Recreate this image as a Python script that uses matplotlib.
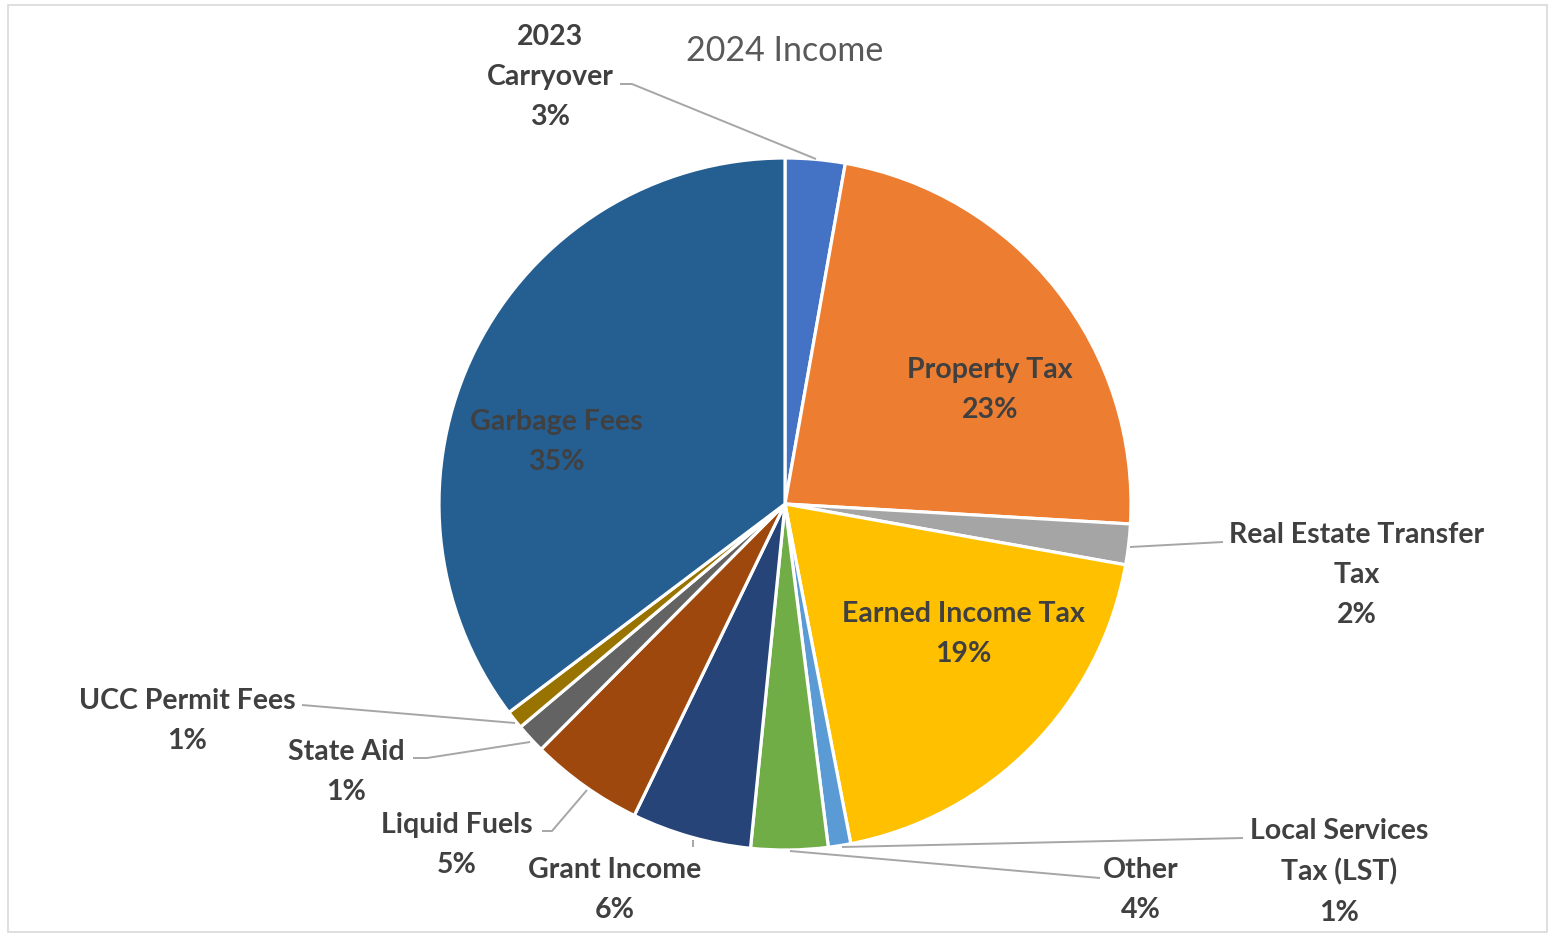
import matplotlib.pyplot as plt
from matplotlib.patches import Rectangle

# 2024 income share by source, clockwise from 12 o'clock
names = ["2023\nCarryover", "Property Tax", "Real Estate Transfer\nTax",
         "Earned Income Tax", "Local Services\nTax (LST)", "Other",
         "Grant Income", "Liquid Fuels", "State Aid", "UCC Permit Fees",
         "Garbage Fees"]
values = [2.8, 23.2, 1.9, 19.2, 1.05, 3.6, 5.6, 5.3, 1.4, 0.86, 35.4]
colors = ["#4472C4", "#ED7D31", "#A5A5A5", "#FFC000", "#5B9BD5", "#70AD47",
          "#264478", "#9E480E", "#636363", "#997300", "#255E91"]

W, H = 1550, 935
fig = plt.figure(figsize=(W / 100, H / 100), dpi=100)
ax = fig.add_axes([0, 0, 1, 1])

def Y(y):
    # image row -> data y
    return H - y

ax.pie(values, colors=colors, startangle=90, counterclock=False,
       center=(785, Y(504)), radius=346, frame=True,
       wedgeprops=dict(edgecolor="white", linewidth=2.3))
ax.set_xlim(0, W)
ax.set_ylim(0, H)
ax.axis("off")

total = sum(values)
pcts = [f"{v / total * 100:.0f}%" for v in values]

# label centres (image pixels)
label_pos = [(550, 77), (990, 390), (1357, 575), (963, 634), (1339, 872),
             (1141, 890), (615, 890), (457, 845), (346, 772), (187, 721),
             (556, 442)]

font = ["Lato", "DejaVu Sans"]
for name, pct, (x, y) in zip(names, pcts, label_pos):
    ax.text(x, Y(y), f"{name}\n{pct}", ha="center", va="center",
            fontsize=20.5, fontweight="bold", color="#404040",
            family=font, linespacing=1.65)

# leader lines
leaders = [
    [(620, 84), (632, 84), (816, 159)],
    [(1130, 547), (1223, 542)],
    [(842, 847), (1243, 838)],
    [(790, 851), (1088, 877), (1100, 878)],
    [(693, 840), (693, 847)],
    [(587, 790), (552, 831), (542, 831)],
    [(530, 742), (427, 758), (413, 758)],
    [(515, 723), (302, 705)],
]
for pts in leaders:
    xs = [p[0] for p in pts]
    ys = [Y(p[1]) for p in pts]
    ax.plot(xs, ys, color="#A6A6A6", lw=1.4, solid_capstyle="butt")

ax.text(785, Y(51), "2024 Income", ha="center", va="center",
        fontsize=24.5, color="#595959", family=font)

fig.patches.append(Rectangle((8 / W, 3 / H), 1539 / W, 927 / H,
                             transform=fig.transFigure, fill=False,
                             edgecolor="#D9D9D9", lw=1.2))

fig.savefig("out.png", dpi=100)
